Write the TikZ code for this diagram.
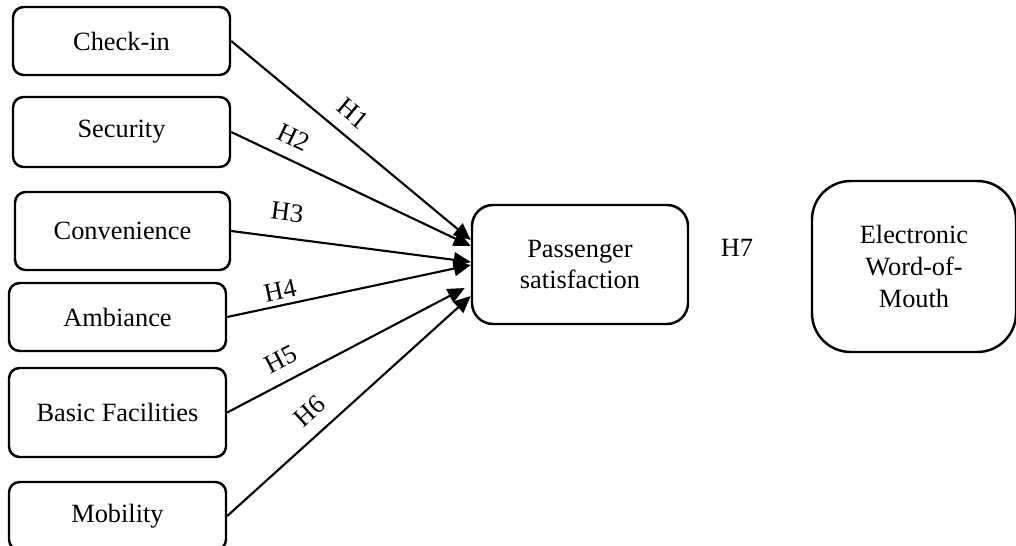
\documentclass[tikz,border=0pt]{standalone}
\usepackage{fontspec}
\setmainfont{Liberation Serif}
\usetikzlibrary{arrows.meta, calc, positioning}

\tikzset{
  factor/.style={draw, line width=1.4pt, rounded corners=6pt,
    minimum width=4.34cm, minimum height=1.36cm, align=center},
  hyp/.style={-{Triangle[length=0.34cm,width=0.3cm]}, line width=1.2pt},
  hlabel/.style={sloped, above=5pt, inner sep=2pt}
}

\begin{document}
\begin{tikzpicture}[font=\fontsize{15}{18}\selectfont]
\useasboundingbox (0,0) rectangle (20.32,-10.92);

% ---- Left column: service factors ----
\node[factor] (ci) at (2.43,-0.82) {Check-in};
\node[factor, minimum height=1.40cm] (se) at (2.43,-2.64) {Security};
\node[factor, minimum width=4.30cm, minimum height=1.56cm] (co) at (2.45,-4.62) {Convenience};
\node[factor] (am) at (2.35,-6.34) {Ambiance};
\node[factor, minimum height=1.78cm] (bf) at (2.35,-8.25) {Basic Facilities};
\node[factor] (mo) at (2.35,-10.32) {Mobility};

% ---- Outcomes ----
\node[factor, minimum width=4.32cm, minimum height=2.38cm, rounded corners=12pt]
  (ps) at (11.6,-5.29) {Passenger\\satisfaction};
\node[factor, minimum width=4.08cm, minimum height=3.42cm, rounded corners=22pt]
  (ew) at (18.28,-5.33) {Electronic\\Word-of-\\Mouth};
\node (h7) at (14.74,-4.96) {H7};

% ---- Hypotheses ----
\draw[hyp] (ci.east) -- ([yshift=0.49cm]ps.west)
  node[hlabel, pos=0.45] {H1};
\draw[hyp] (se.east) -- ([yshift=0.37cm]ps.west)
  node[hlabel, pos=0.22] {H2};
\draw[hyp] (co.east) -- ([yshift=0.05cm]ps.west)
  node[hlabel, pos=0.22, above=7pt] {H3};
\draw[hyp] (am.east) -- ([yshift=-0.01cm]ps.west)
  node[hlabel, pos=0.23, above=1pt] {H4};
\draw[hyp] (bf.east) -- ([xshift=-0.12cm,yshift=-0.47cm]ps.west)
  node[hlabel, pos=0.27] {H5};
\draw[hyp] (mo.east) -- ([yshift=-0.63cm]ps.west)
  node[hlabel, pos=0.40] {H6};

\end{tikzpicture}
\end{document}
